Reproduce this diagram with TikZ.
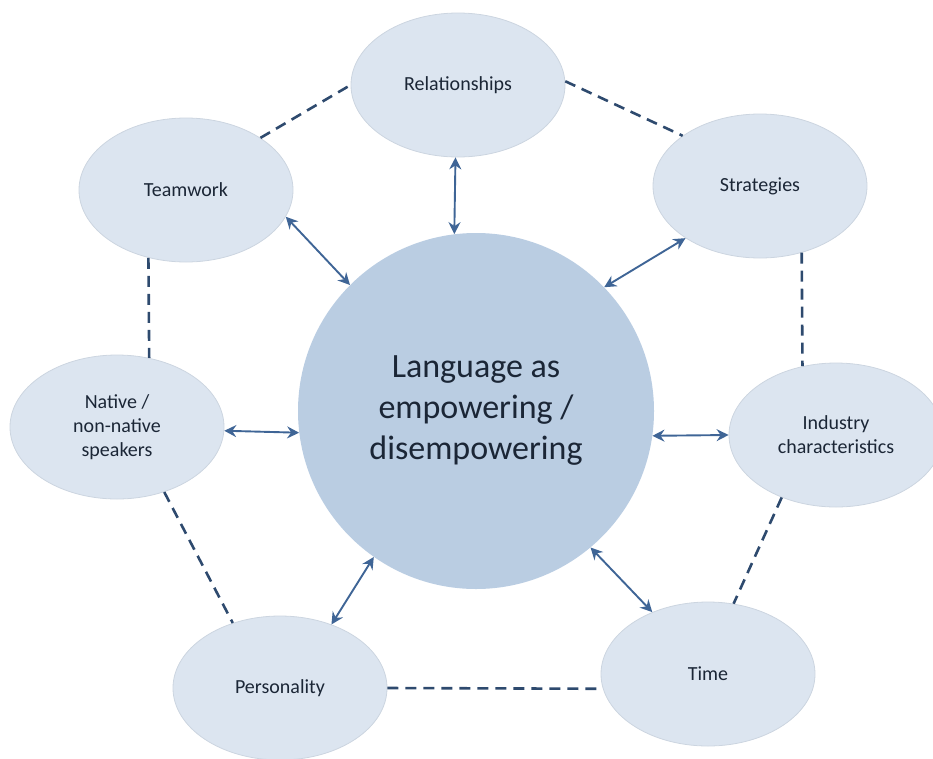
\documentclass[tikz,border=0pt]{standalone}
\usepackage{fontspec}
\setmainfont{Carlito}
\usetikzlibrary{arrows.meta,shapes.geometric}

\definecolor{bubblefill}{HTML}{DCE5F0}
\definecolor{bubbleedge}{HTML}{CCD5E0}
\definecolor{hubfill}{HTML}{BACDE2}
\definecolor{txt}{HTML}{1B2636}
\definecolor{dashcol}{HTML}{2E4A6E}
\definecolor{arrcol}{HTML}{3F6596}

\begin{document}
\begin{tikzpicture}[x=1pt,y=-1pt,
	bubble/.style={ellipse, fill=bubblefill, draw=bubbleedge, line width=0.8pt, minimum width=214pt, minimum height=144pt, inner sep=0pt, align=center, text=txt, font=\fontsize{20}{24}\selectfont},
	hub/.style={circle, fill=hubfill, minimum size=356pt, inner sep=0pt, align=center, text=txt, font=\fontsize{34}{41}\selectfont},
	link/.style={dashcol, line width=2.6pt, dash pattern=on 11pt off 7pt},
	arr/.style={arrcol, line width=1.9pt, {Stealth[length=12pt,width=12pt,inset=4pt]}-{Stealth[length=12pt,width=12pt,inset=4pt]}}]
		\useasboundingbox (0,0) rectangle (933,758);
		\node[hub] (lang) at (476,411) {Language as\\empowering /\\disempowering};
		\node[bubble] (rel) at (458,85) {Relationships};
		\node[bubble] (team) at (186,190) {Teamwork};
		\node[bubble] (strat) at (760,186) {Strategies};
		\node[bubble] (nat) at (117,427) {Native /\\non-native\\speakers};
		\node[bubble] (ind) at (836,435) {Industry\\characteristics};
		\node[bubble] (pers) at (280,688) {Personality};
		\node[bubble] (time) at (708,674) {Time};
		% dashed ring
		\draw[link] (team.35)--(rel.180);
		\draw[link] (rel.2)--(strat.147);
		\draw[link] (team.241.6)--(nat.65.4);
		\draw[link] (strat.-58.3)--(ind.116.5);
		\draw[link] (nat.-54)--(pers.126.7);
		\draw[link] (ind.229.7)--(time.70.9);
		\draw[link] (pers.0)--(time.188);
		% arrows to the centre
		\draw[arr] (rel.-92)--(lang.97);
		\draw[arr] (team.-15)--(lang.135.5);
		\draw[arr] (strat.215)--(lang.44.5);
		\draw[arr] (nat.-2)--(lang.187);
		\draw[arr] (ind.180)--(lang.-8);
		\draw[arr] (pers.51)--(lang.235.7);
		\draw[arr] (time.132)--(lang.-50.3);
	\end{tikzpicture}
\end{document}
